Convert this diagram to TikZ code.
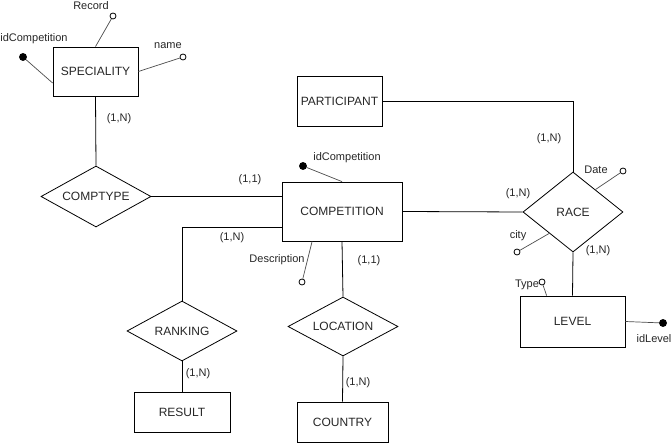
\documentclass[tikz,border=0pt]{standalone}
\usepackage{fontspec}
\setmainfont{Liberation Sans}
\usepackage{tikz}
\usetikzlibrary{positioning, shapes.geometric, calc}

\begin{document}
\begin{tikzpicture}[x=1pt, y=-1pt, line width=0.8pt, every node/.style={text=black!85},
	entity/.style={draw, rectangle, inner sep=0pt, font=\fontsize{12}{14}\selectfont},
	relation/.style={draw, diamond, aspect=1.8, inner sep=1pt, font=\fontsize{12}{14}\selectfont},
	attrib/.style={draw, circle, fill=white, minimum size=6pt, inner sep=0pt},
	keyattr/.style={draw, circle, fill=black, minimum size=7pt, inner sep=0pt},
	lbl/.style={inner sep=0pt, font=\fontsize{11}{13}\selectfont},
	att/.style={draw=black!70, line width=0.7pt}]

				\useasboundingbox (0,0) rectangle (672,443);

				% entities
				\node [entity] (SP) [minimum width=85pt, minimum height=49pt] at (95.5,71.5)
					{SPECIALITY};
				\node [entity] (PART) [minimum width=85pt, minimum height=50pt] at (339.5,101)
					{PARTICIPANT};
				\node [entity] (COMP) [minimum width=120pt, minimum height=59pt] at (342,211.5)
					{COMPETITION};
				\node [entity] (LEV) [minimum width=105pt, minimum height=51pt] at (572.5,321.5)
					{LEVEL};
				\node [entity] (RES) [minimum width=96pt, minimum height=40pt] at (182,412)
					{RESULT};
				\node [entity] (CTRY) [minimum width=91pt, minimum height=40pt] at (342.5,422)
					{COUNTRY};

				% relations
				\node [relation] (CT) [minimum width=110pt, minimum height=61pt] at (96,196.5)
					{COMPTYPE};
				\node [relation] (RACE) [minimum width=100pt, minimum height=80pt] at (573,212)
					{RACE};
				\node [relation] (RANK) [minimum width=110pt, minimum height=60pt] at (182,331)
					{RANKING};
				\node [relation] (LOC) [minimum width=110pt, minimum height=59pt] at (343,326.5)
					{LOCATION};

				% attributes
				\node [attrib] (REC) at (113,16) {};
				\node [attrib] (NAME) at (183,57) {};
				\node [keyattr] (SPID) at (23,57) {};
				\node [keyattr] (COMPID) at (303,166) {};
				\node [attrib] (DESC) at (302,282) {};
				\node [attrib] (DATE) at (623,171) {};
				\node [attrib] (CITY) at (517,252) {};
				\node [attrib] (TYPE) at (542,282) {};
				\node [keyattr] (LEVID) at (663,323) {};

				\node [lbl] at (91,6) {Record};
				\node [lbl] at (34,39) {idCompetition};
				\node [lbl] at (168,46) {name};
				\node [lbl] at (347,158) {idCompetition};
				\node [lbl] at (277,260) {Description};
				\node [lbl] at (596,170) {Date};
				\node [lbl] at (518,236) {city};
				\node [lbl] at (527,285) {Type};
				\node [lbl] at (654,339) {idLevel};

				\draw[att] (SP.north) -- (REC);
				\draw[att] (SP.195) -- (SPID);
				\draw[att] (SP.east) -- (NAME);
				\draw[att] (COMP.north) -- (COMPID);
				\draw[att] (COMP.225) -- (DESC);
				\draw[att] (RACE.45) -- (DATE);
				\draw[att] (RACE.222) -- (CITY);
				\draw[att] (LEV.135) -- (TYPE);
				\draw[att] (LEV.east) -- (LEVID);

				% links
				\draw (SP.south) -- (CT.north);
				\draw (CT.east) -- (CT.east -| COMP.west);
				\draw (COMP.195) -| (RANK.north);
				\draw (RANK.south) -- (RES.north);
				\draw (COMP.south) -- (LOC.north);
				\draw (LOC.south) -- (CTRY.north);
				\draw (COMP.east) -- (RACE.west);
				\draw (PART.east) -| (RACE.north);
				\draw (RACE.south) -- (LEV.north);

				% cardinalities
				\node [lbl] at (119,119) {(1,N)};
				\node [lbl] at (250,180) {(1,1)};
				\node [lbl] at (232,238) {(1,N)};
				\node [lbl] at (369,261) {(1,1)};
				\node [lbl] at (198,374) {(1,N)};
				\node [lbl] at (358,383) {(1,N)};
				\node [lbl] at (549,139) {(1,N)};
				\node [lbl] at (518,194) {(1,N)};
				\node [lbl] at (598,251) {(1,N)};

			\end{tikzpicture}
\end{document}
